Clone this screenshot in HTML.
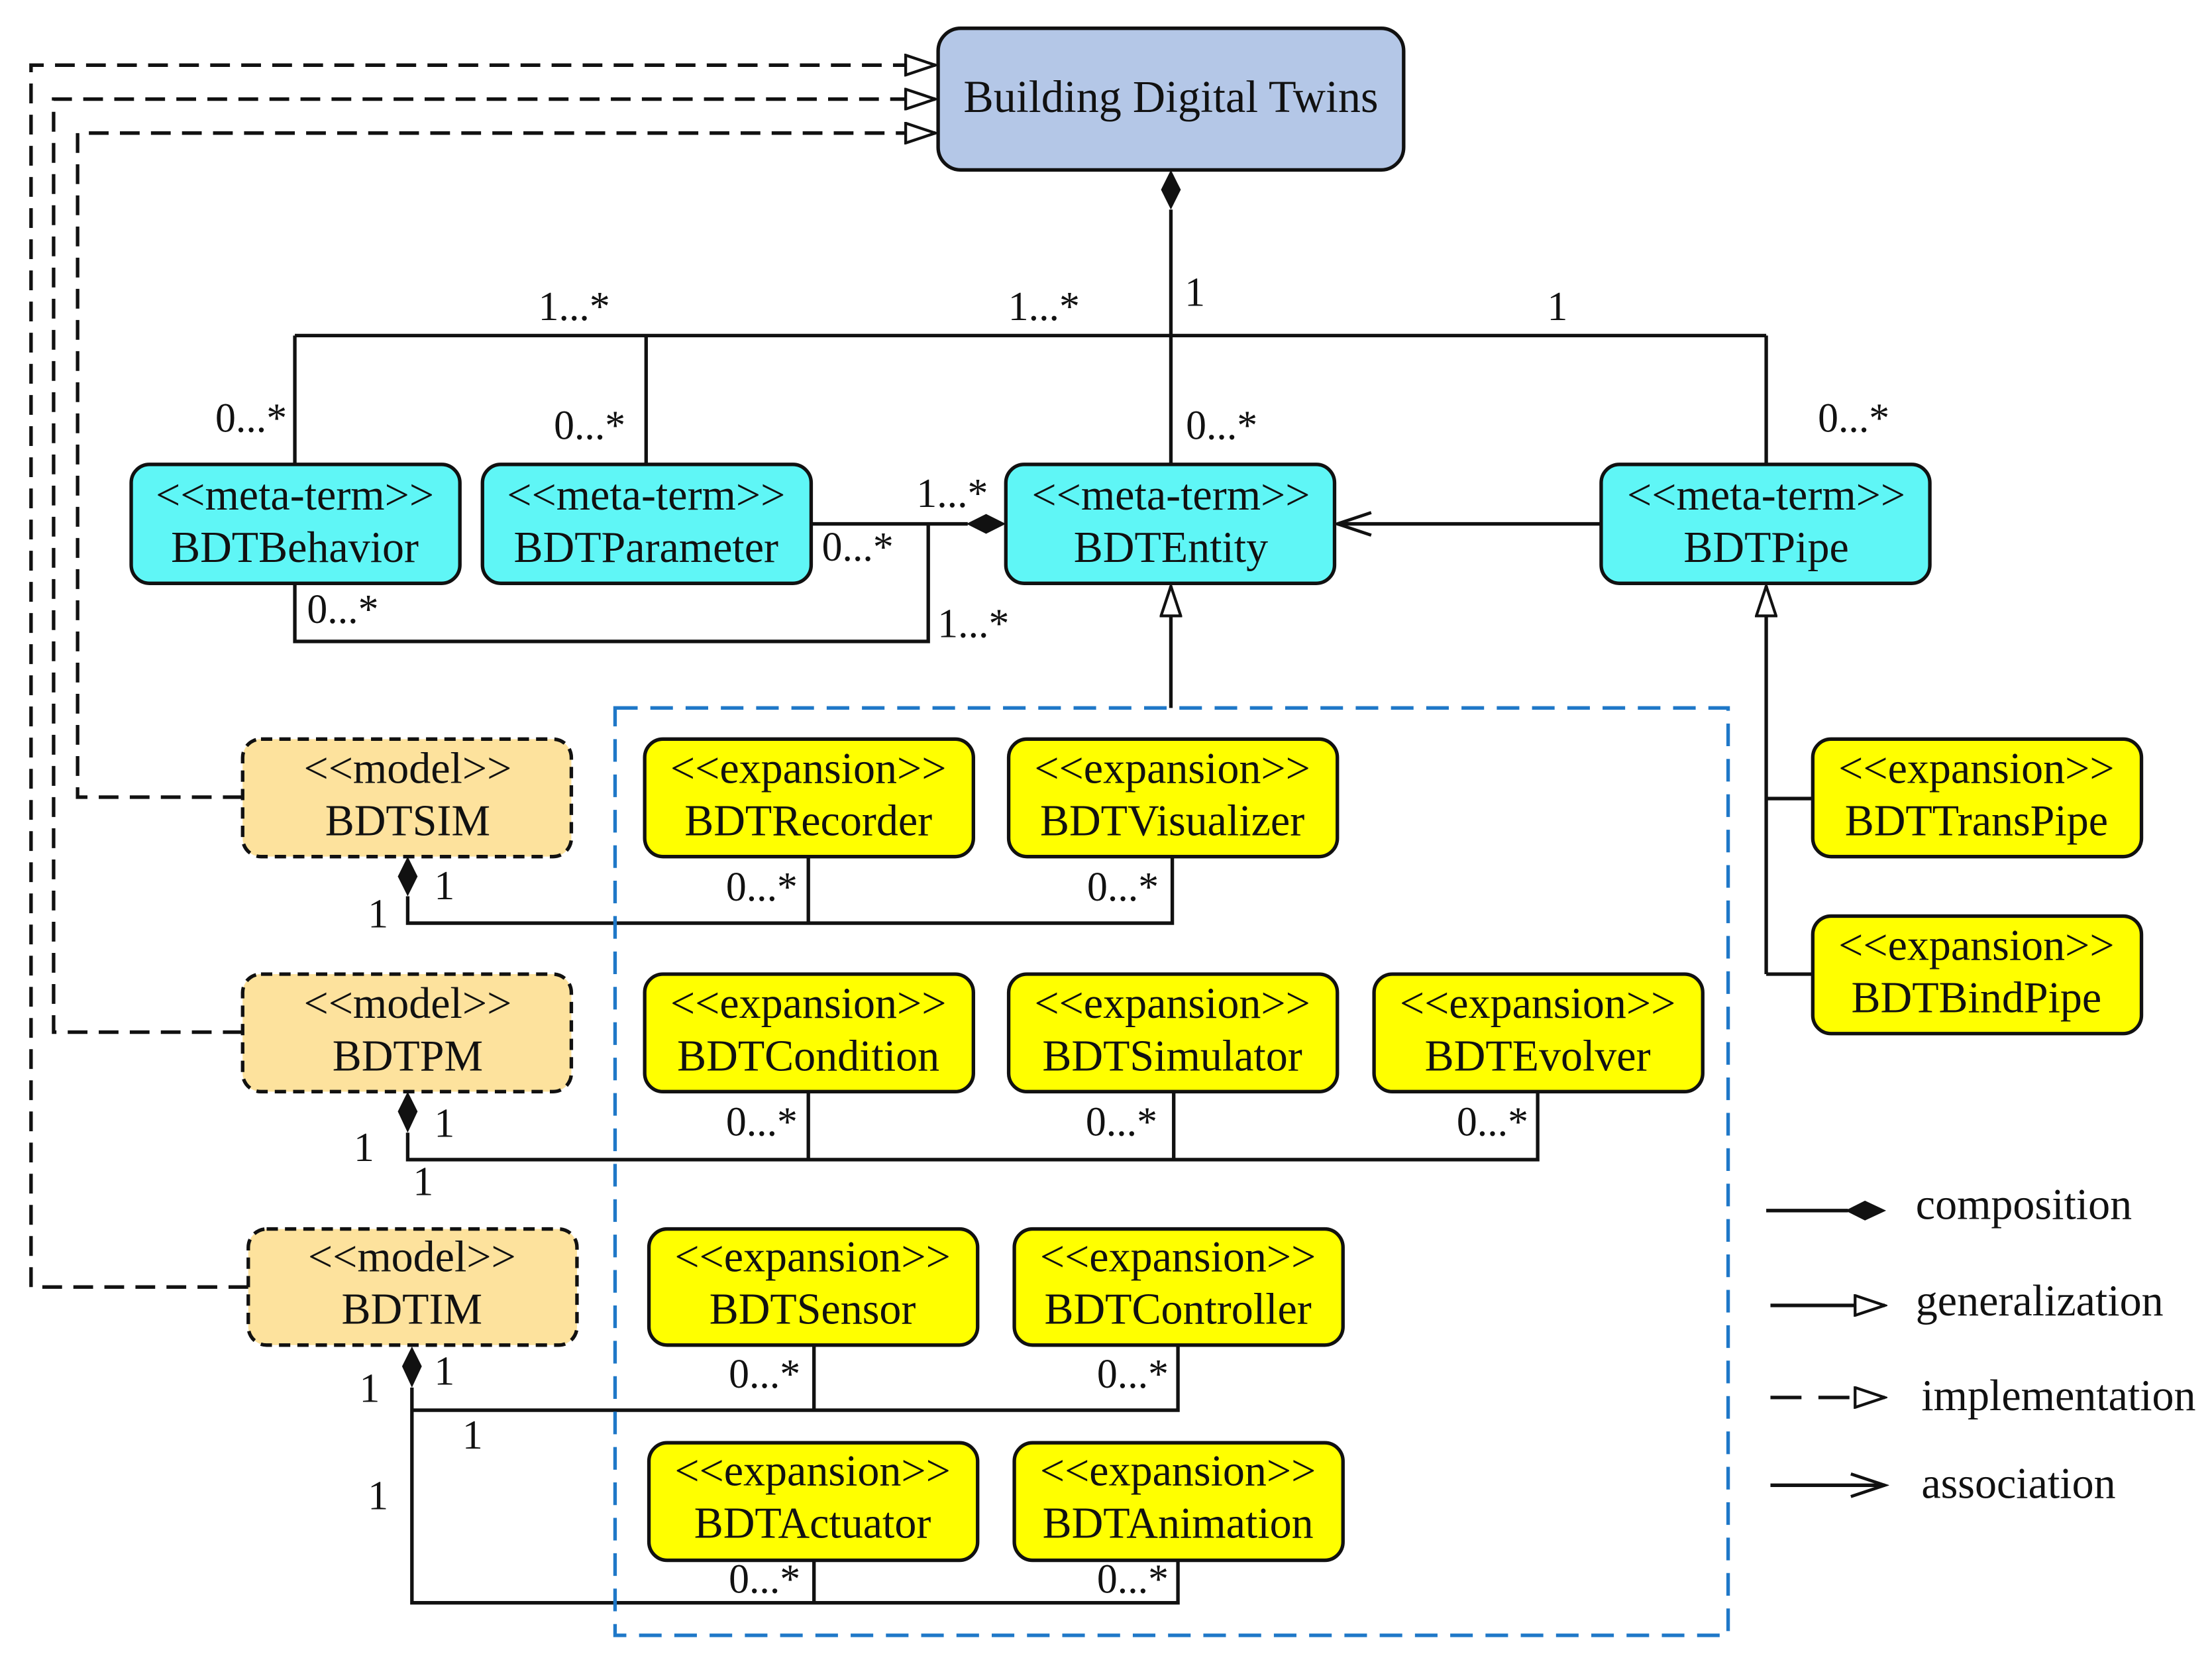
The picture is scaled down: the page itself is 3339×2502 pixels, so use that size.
<!DOCTYPE html>
<html><head><meta charset="utf-8"><style>
html,body{margin:0;padding:0;background:#fff}
svg{display:block}
text{font-family:"Liberation Serif",serif;fill:#111}
</style></head><body>
<svg width="3339" height="2502" viewBox="0 0 1568 1171" preserveAspectRatio="none" xmlns="http://www.w3.org/2000/svg">
<defs>
<marker id="tri" markerWidth="24" markerHeight="16" refX="22" refY="8" orient="auto" markerUnits="userSpaceOnUse">
<path d="M1,1 L22,8 L1,15 Z" fill="#fff" stroke="#111" stroke-width="2"/></marker>
<marker id="open" markerWidth="28" markerHeight="20" refX="25" refY="10" orient="auto" markerUnits="userSpaceOnUse">
<path d="M1,2 L25,10 L1,18" fill="none" stroke="#111" stroke-width="2.2"/></marker>
</defs>
<g stroke="#111" stroke-width="2.5" fill="none">
<line x1="830" y1="148" x2="830" y2="328"/>
<line x1="209" y1="237" x2="1252" y2="237"/>
<line x1="209" y1="237" x2="209" y2="328"/>
<line x1="458" y1="237" x2="458" y2="328"/>
<line x1="1252" y1="237" x2="1252" y2="328"/>
<line x1="575" y1="370" x2="686" y2="370"/>
<polyline points="209,412 209,453 658,453 658,370"/>
<line x1="1135" y1="370" x2="948" y2="370" marker-end="url(#open)"/>
<line x1="830" y1="500" x2="830" y2="414" marker-end="url(#tri)"/>
<line x1="1252" y1="688" x2="1252" y2="414" marker-end="url(#tri)"/>
<line x1="1252" y1="564" x2="1285" y2="564"/>
<line x1="1252" y1="688" x2="1285" y2="688"/>
<polyline points="289,633 289,652 831,652 831,605"/>
<line x1="573" y1="605" x2="573" y2="652"/>
<polyline points="289,800 289,819 1090,819 1090,771"/>
<line x1="573" y1="771" x2="573" y2="819"/>
<line x1="832" y1="771" x2="832" y2="819"/>
<polyline points="292,980 292,1132 835,1132 835,1102"/>
<line x1="577" y1="1102" x2="577" y2="1132"/>
<polyline points="292,996 835,996 835,950"/>
<line x1="577" y1="950" x2="577" y2="996"/>
<g stroke-dasharray="14,8">
<polyline points="172,563 55,563 55,94 663,94" marker-end="url(#tri)"/>
<polyline points="172,729 38,729 38,70 663,70" marker-end="url(#tri)"/>
<polyline points="176,909 22,909 22,46 663,46" marker-end="url(#tri)"/>
</g>
<line x1="1252" y1="855" x2="1310" y2="855"/>
<line x1="1255" y1="922" x2="1336" y2="922" marker-end="url(#tri)"/>
<line x1="1255" y1="987" x2="1336" y2="987" stroke-dasharray="22,12" marker-end="url(#tri)"/>
<line x1="1255" y1="1049" x2="1336" y2="1049" marker-end="url(#open)"/>
</g>
<g fill="#111">
<path d="M830,120 L837,134 L830,148 L823,134 Z"/>
<path d="M685,370 L699,363 L713,370 L699,377 Z"/>
<path d="M289,605 L296,619 L289,633 L282,619 Z"/>
<path d="M289,771 L296,785 L289,800 L282,785 Z"/>
<path d="M292,951 L299,965 L292,980 L285,965 Z"/>
<path d="M1308,855 L1322,848 L1337,855 L1322,862 Z"/>
</g>
<rect x="436" y="500" width="789" height="655" fill="none" stroke="#1f78c8" stroke-width="2.5" stroke-dasharray="16,9"/>
<rect x="665" y="20" width="330" height="100" rx="16" fill="#b4c7e7" stroke="#111" stroke-width="2.5"/>
<text x="830" y="79" font-size="32" text-anchor="middle">Building Digital Twins</text>
<g stroke="#111" stroke-width="2.5" fill="#5ff6f6">
<rect x="93" y="328" width="233" height="84" rx="13"/>
<rect x="342" y="328" width="233" height="84" rx="13"/>
<rect x="713" y="328" width="233" height="84" rx="13"/>
<rect x="1135" y="328" width="233" height="84" rx="13"/>
</g>
<g stroke="#111" stroke-width="2.5" fill="#fde29d" stroke-dasharray="8,5">
<rect x="172" y="522" width="233" height="83" rx="13"/>
<rect x="172" y="688" width="233" height="83" rx="13"/>
<rect x="176" y="868" width="233" height="82" rx="13"/>
</g>
<g stroke="#111" stroke-width="2.5" fill="#ffff00">
<rect x="457" y="522" width="233" height="83" rx="13"/>
<rect x="715" y="522" width="233" height="83" rx="13"/>
<rect x="1285" y="522" width="233" height="83" rx="13"/>
<rect x="1285" y="647" width="233" height="83" rx="13"/>
<rect x="457" y="688" width="233" height="83" rx="13"/>
<rect x="715" y="688" width="233" height="83" rx="13"/>
<rect x="974" y="688" width="233" height="83" rx="13"/>
<rect x="460" y="868" width="233" height="82" rx="13"/>
<rect x="719" y="868" width="233" height="82" rx="13"/>
<rect x="460" y="1019" width="233" height="83" rx="13"/>
<rect x="719" y="1019" width="233" height="83" rx="13"/>
</g>
<g font-size="31" text-anchor="middle">
<text x="209" y="360">&lt;&lt;meta-term&gt;&gt;</text><text x="209" y="397">BDTBehavior</text>
<text x="458" y="360">&lt;&lt;meta-term&gt;&gt;</text><text x="458" y="397">BDTParameter</text>
<text x="830" y="360">&lt;&lt;meta-term&gt;&gt;</text><text x="830" y="397">BDTEntity</text>
<text x="1252" y="360">&lt;&lt;meta-term&gt;&gt;</text><text x="1252" y="397">BDTPipe</text>
<text x="289" y="553">&lt;&lt;model&gt;&gt;</text><text x="289" y="590">BDTSIM</text>
<text x="289" y="719">&lt;&lt;model&gt;&gt;</text><text x="289" y="756">BDTPM</text>
<text x="292" y="898">&lt;&lt;model&gt;&gt;</text><text x="292" y="935">BDTIM</text>
<text x="573" y="553">&lt;&lt;expansion&gt;&gt;</text><text x="573" y="590">BDTRecorder</text>
<text x="831" y="553">&lt;&lt;expansion&gt;&gt;</text><text x="831" y="590">BDTVisualizer</text>
<text x="1401" y="553">&lt;&lt;expansion&gt;&gt;</text><text x="1401" y="590">BDTTransPipe</text>
<text x="1401" y="678">&lt;&lt;expansion&gt;&gt;</text><text x="1401" y="715">BDTBindPipe</text>
<text x="573" y="719">&lt;&lt;expansion&gt;&gt;</text><text x="573" y="756">BDTCondition</text>
<text x="831" y="719">&lt;&lt;expansion&gt;&gt;</text><text x="831" y="756">BDTSimulator</text>
<text x="1090" y="719">&lt;&lt;expansion&gt;&gt;</text><text x="1090" y="756">BDTEvolver</text>
<text x="576" y="898">&lt;&lt;expansion&gt;&gt;</text><text x="576" y="935">BDTSensor</text>
<text x="835" y="898">&lt;&lt;expansion&gt;&gt;</text><text x="835" y="935">BDTController</text>
<text x="576" y="1049">&lt;&lt;expansion&gt;&gt;</text><text x="576" y="1086">BDTActuator</text>
<text x="835" y="1049">&lt;&lt;expansion&gt;&gt;</text><text x="835" y="1086">BDTAnimation</text>
</g>
<g font-size="29" text-anchor="middle">
<text x="407" y="226">1...*</text><text x="740" y="226">1...*</text>
<text x="847" y="216">1</text><text x="1104" y="226">1</text>
<text x="178" y="305">0...*</text><text x="418" y="310">0...*</text>
<text x="866" y="310">0...*</text><text x="1314" y="305">0...*</text>
<text x="675" y="358">1...*</text><text x="608" y="396">0...*</text>
<text x="243" y="440">0...*</text><text x="690" y="450">1...*</text>
<text x="315" y="635">1</text><text x="268" y="655">1</text>
<text x="540" y="636">0...*</text><text x="796" y="636">0...*</text>
<text x="315" y="803">1</text><text x="258" y="820">1</text><text x="300" y="844">1</text>
<text x="540" y="802">0...*</text><text x="795" y="802">0...*</text><text x="1058" y="802">0...*</text>
<text x="315" y="978">1</text><text x="262" y="990">1</text><text x="335" y="1023">1</text><text x="268" y="1066">1</text>
<text x="542" y="980">0...*</text><text x="803" y="980">0...*</text>
<text x="542" y="1125">0...*</text><text x="803" y="1125">0...*</text>
</g>
<g font-size="31">
<text x="1358" y="861">composition</text>
<text x="1358" y="929">generalization</text>
<text x="1362" y="996">implementation</text>
<text x="1362" y="1058">association</text>
</g>
</svg>
</body></html>
